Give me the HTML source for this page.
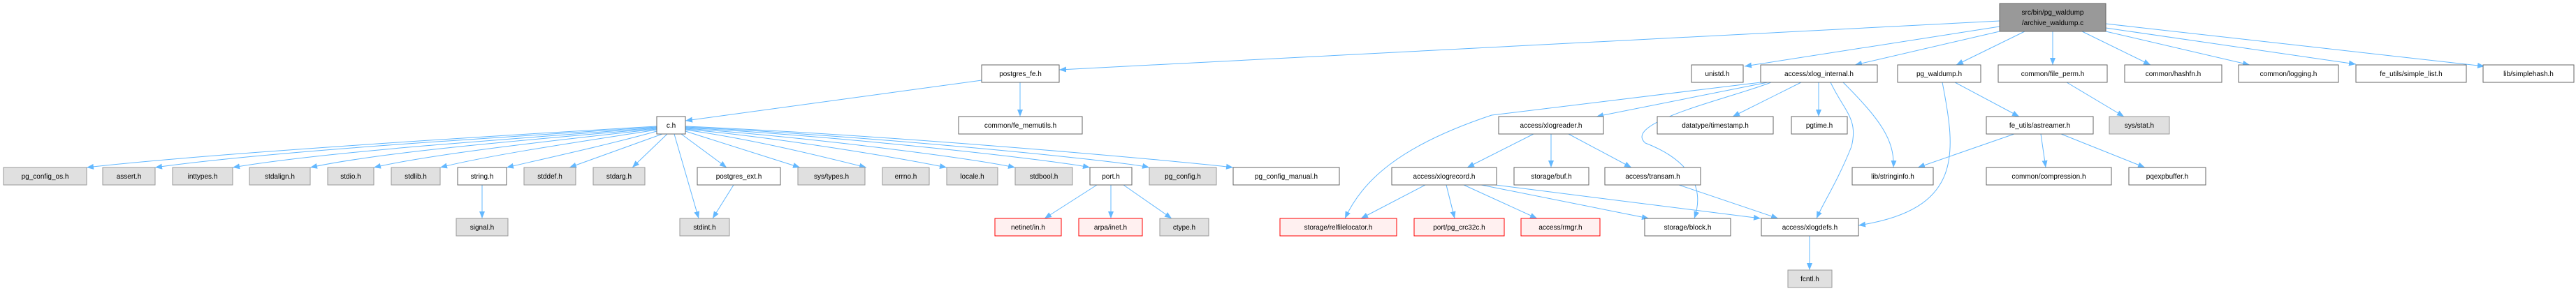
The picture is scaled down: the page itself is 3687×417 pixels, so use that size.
<!DOCTYPE html>
<html><head><meta charset="utf-8"><style>
html,body{margin:0;padding:0;background:#fff;width:3687px;height:417px;overflow:hidden}
svg{display:block}
text{font-family:"Liberation Sans",Helvetica,sans-serif;font-size:10px;fill:#000}
.w{fill:#fff;stroke:#666;stroke-width:1}
.g{fill:#e0e0e0;stroke:#999;stroke-width:1}
.r{fill:#fff0f0;stroke:red;stroke-width:1}
.m{fill:#999;stroke:#666;stroke-width:1}
.e{fill:none;stroke:#63b8ff;stroke-width:1;marker-end:url(#a)}
</style></head><body>
<svg width="3687" height="417" viewBox="0 0 3687 417" xmlns="http://www.w3.org/2000/svg">
<defs><marker id="a" viewBox="0 0 10 10" refX="10" refY="5" markerWidth="10" markerHeight="10" markerUnits="userSpaceOnUse" orient="auto"><path d="M0,1 L10,5 L0,9 z" fill="#63b8ff"/></marker></defs>
<g>
<path class="e" d="M2862,30 L1516,100"/>
<path class="e" d="M2862,38 L2497,95"/>
<path class="e" d="M2862,45 L2655,93"/>
<path class="e" d="M2898,45 L2800,93"/>
<path class="e" d="M2938,45 L2938,93"/>
<path class="e" d="M2980,45 L3078,93"/>
<path class="e" d="M3014,45 L3220,93"/>
<path class="e" d="M3014,40 L3372,92"/>
<path class="e" d="M3014,34 L3556,95"/>
<path class="e" d="M1405,115 L981,173"/>
<path class="e" d="M1460,118 L1460,167"/>
<path class="e" d="M940,181 C700,195 300,220 124,240"/>
<path class="e" d="M940,182 C750,195 400,215 222,240"/>
<path class="e" d="M940,183 C780,196 480,215 333,240"/>
<path class="e" d="M940,184 C800,197 560,215 444,240"/>
<path class="e" d="M940,185 C820,198 620,220 535,240"/>
<path class="e" d="M940,186 C850,200 700,222 630,240"/>
<path class="e" d="M940,188 C880,205 790,225 725,240"/>
<path class="e" d="M948,192 L815,240"/>
<path class="e" d="M955,192 L905,240"/>
<path class="e" d="M965,192 L1000,313"/>
<path class="e" d="M975,192 L1040,240"/>
<path class="e" d="M981,188 L1145,240"/>
<path class="e" d="M981,186 C1080,200 1180,225 1240,240"/>
<path class="e" d="M981,185 C1120,198 1280,225 1355,240"/>
<path class="e" d="M981,184 C1150,196 1380,225 1453,240"/>
<path class="e" d="M981,183 C1200,195 1500,228 1560,240"/>
<path class="e" d="M981,182 C1250,195 1600,230 1645,240"/>
<path class="e" d="M981,181 C1300,195 1700,232 1765,240"/>
<path class="e" d="M1050,265 L1020,313"/>
<path class="e" d="M690,265 L690,313"/>
<path class="e" d="M1570,265 L1495,313"/>
<path class="e" d="M1590,265 L1590,313"/>
<path class="e" d="M1608,265 L1677,313"/>
<path class="e" d="M2520,118 L2135,165 C2000,210 1950,260 1925,313"/>
<path class="e" d="M2530,118 L2285,167"/>
<path class="e" d="M2535,118 C2480,140 2320,175 2355,205 C2420,230 2440,270 2425,313"/>
<path class="e" d="M2578,118 L2480,167"/>
<path class="e" d="M2603,118 L2603,167"/>
<path class="e" d="M2620,118 C2640,160 2660,170 2650,210 C2630,260 2610,290 2600,313"/>
<path class="e" d="M2638,118 C2690,170 2712,200 2710,240"/>
<path class="e" d="M2195,192 L2100,240"/>
<path class="e" d="M2220,192 L2220,240"/>
<path class="e" d="M2245,192 L2335,240"/>
<path class="e" d="M2403,265 L2545,313"/>
<path class="e" d="M2040,265 L1948,313"/>
<path class="e" d="M2070,265 L2082,313"/>
<path class="e" d="M2095,265 L2200,313"/>
<path class="e" d="M2120,265 L2360,313"/>
<path class="e" d="M2140,265 L2520,313"/>
<path class="e" d="M2780,118 C2800,220 2810,300 2660,323"/>
<path class="e" d="M2798,118 L2890,167"/>
<path class="e" d="M2958,118 L3040,167"/>
<path class="e" d="M2883,192 L2745,240"/>
<path class="e" d="M2921,192 L2928,240"/>
<path class="e" d="M2950,192 L3070,240"/>
<path class="e" d="M2590,338 L2590,387"/>
</g>
<g text-anchor="middle">
<rect class="m" x="2862" y="5" width="152" height="40"/><text x="2938" y="21">src/bin/pg_waldump</text><text x="2938" y="36">/archive_waldump.c</text>
<rect class="w" x="1405" y="93" width="111" height="25"/><text x="1460.5" y="109">postgres_fe.h</text>
<rect class="w" x="2421" y="93" width="74" height="25"/><text x="2458" y="109">unistd.h</text>
<rect class="w" x="2520" y="93" width="167" height="25"/><text x="2603.5" y="109">access/xlog_internal.h</text>
<rect class="w" x="2716" y="93" width="119" height="25"/><text x="2775.5" y="109">pg_waldump.h</text>
<rect class="w" x="2860" y="93" width="156" height="25"/><text x="2938" y="109">common/file_perm.h</text>
<rect class="w" x="3041" y="93" width="139" height="25"/><text x="3110.5" y="109">common/hashfn.h</text>
<rect class="w" x="3204" y="93" width="143" height="25"/><text x="3275.5" y="109">common/logging.h</text>
<rect class="w" x="3372" y="93" width="158" height="25"/><text x="3451" y="109">fe_utils/simple_list.h</text>
<rect class="w" x="3554" y="93" width="130" height="25"/><text x="3619" y="109">lib/simplehash.h</text>
<rect class="w" x="940" y="167" width="41" height="25"/><text x="960.5" y="183">c.h</text>
<rect class="w" x="1372" y="167" width="177" height="25"/><text x="1460.5" y="183">common/fe_memutils.h</text>
<rect class="w" x="2145" y="167" width="150" height="25"/><text x="2220" y="183">access/xlogreader.h</text>
<rect class="w" x="2372" y="167" width="166" height="25"/><text x="2455" y="183">datatype/timestamp.h</text>
<rect class="w" x="2564" y="167" width="80" height="25"/><text x="2604" y="183">pgtime.h</text>
<rect class="w" x="2843" y="167" width="153" height="25"/><text x="2919.5" y="183">fe_utils/astreamer.h</text>
<rect class="g" x="3019" y="167" width="86" height="25"/><text x="3062" y="183">sys/stat.h</text>
<rect class="g" x="5" y="240" width="119" height="25"/><text x="64.5" y="256">pg_config_os.h</text>
<rect class="g" x="147" y="240" width="75" height="25"/><text x="184.5" y="256">assert.h</text>
<rect class="g" x="247" y="240" width="86" height="25"/><text x="290" y="256">inttypes.h</text>
<rect class="g" x="357" y="240" width="87" height="25"/><text x="400.5" y="256">stdalign.h</text>
<rect class="g" x="469" y="240" width="66" height="25"/><text x="502" y="256">stdio.h</text>
<rect class="g" x="560" y="240" width="70" height="25"/><text x="595" y="256">stdlib.h</text>
<rect class="w" x="655" y="240" width="70" height="25"/><text x="690" y="256">string.h</text>
<rect class="g" x="750" y="240" width="74" height="25"/><text x="787" y="256">stddef.h</text>
<rect class="g" x="849" y="240" width="74" height="25"/><text x="886" y="256">stdarg.h</text>
<rect class="w" x="998" y="240" width="119" height="25"/><text x="1057.5" y="256">postgres_ext.h</text>
<rect class="g" x="1142" y="240" width="96" height="25"/><text x="1190" y="256">sys/types.h</text>
<rect class="g" x="1263" y="240" width="67" height="25"/><text x="1296.5" y="256">errno.h</text>
<rect class="g" x="1355" y="240" width="73" height="25"/><text x="1391.5" y="256">locale.h</text>
<rect class="g" x="1453" y="240" width="82" height="25"/><text x="1494" y="256">stdbool.h</text>
<rect class="w" x="1560" y="240" width="60" height="25"/><text x="1590" y="256">port.h</text>
<rect class="g" x="1645" y="240" width="96" height="25"/><text x="1693" y="256">pg_config.h</text>
<rect class="w" x="1765" y="240" width="152" height="25"/><text x="1841" y="256">pg_config_manual.h</text>
<rect class="w" x="1992" y="240" width="150" height="25"/><text x="2067" y="256">access/xlogrecord.h</text>
<rect class="w" x="2167" y="240" width="107" height="25"/><text x="2220.5" y="256">storage/buf.h</text>
<rect class="w" x="2297" y="240" width="137" height="25"/><text x="2365.5" y="256">access/transam.h</text>
<rect class="w" x="2651" y="240" width="116" height="25"/><text x="2709" y="256">lib/stringinfo.h</text>
<rect class="w" x="2843" y="240" width="179" height="25"/><text x="2932.5" y="256">common/compression.h</text>
<rect class="w" x="3047" y="240" width="110" height="25"/><text x="3102" y="256">pqexpbuffer.h</text>
<rect class="g" x="653" y="313" width="74" height="25"/><text x="690" y="329">signal.h</text>
<rect class="g" x="973" y="313" width="71" height="25"/><text x="1008.5" y="329">stdint.h</text>
<rect class="r" x="1424" y="313" width="95" height="25"/><text x="1471.5" y="329">netinet/in.h</text>
<rect class="r" x="1544" y="313" width="91" height="25"/><text x="1589.5" y="329">arpa/inet.h</text>
<rect class="g" x="1660" y="313" width="70" height="25"/><text x="1695" y="329">ctype.h</text>
<rect class="r" x="1832" y="313" width="167" height="25"/><text x="1915.5" y="329">storage/relfilelocator.h</text>
<rect class="r" x="2024" y="313" width="129" height="25"/><text x="2088.5" y="329">port/pg_crc32c.h</text>
<rect class="r" x="2177" y="313" width="113" height="25"/><text x="2233.5" y="329">access/rmgr.h</text>
<rect class="w" x="2354" y="313" width="123" height="25"/><text x="2415.5" y="329">storage/block.h</text>
<rect class="w" x="2521" y="313" width="139" height="25"/><text x="2590.5" y="329">access/xlogdefs.h</text>
<rect class="g" x="2559" y="387" width="63" height="25"/><text x="2590.5" y="403">fcntl.h</text>
</g>
</svg>
</body></html>
